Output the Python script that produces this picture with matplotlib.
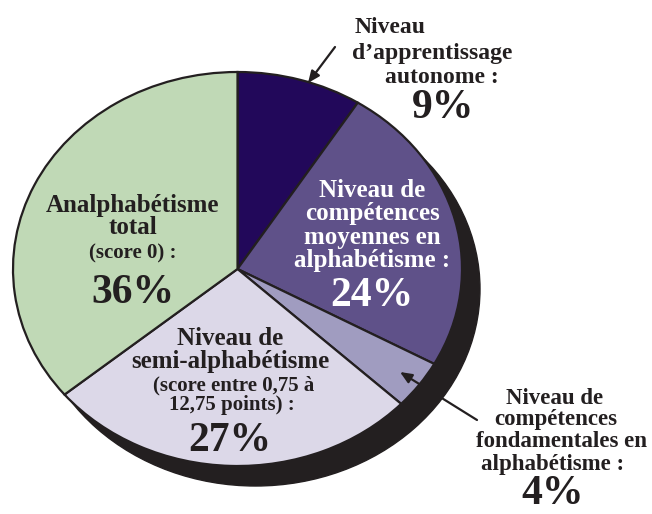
import matplotlib
matplotlib.use("Agg")
import matplotlib.pyplot as plt
from matplotlib.patches import Ellipse

# ---- data ----
categories = [
    "Niveau d'apprentissage autonome",
    "Niveau de compétences moyennes en alphabétisme",
    "Niveau de compétences fondamentales en alphabétisme",
    "Niveau de semi-alphabétisme",
    "Analphabétisme total",
]
values = [9, 24, 4, 27, 36]
colors = ["#22085a", "#5f5189", "#a09cc0", "#dcd8e8", "#c0d9b6"]
pct_labels = ["9%", "24%", "4%", "27%", "36%"]

W, H = 652, 514
fig = plt.figure(figsize=(W / 100, H / 100), dpi=100)
ax = fig.add_axes([0, 0, 1, 1])

# pie geometry (pixels) -> elliptical pie using non-equal aspect
cx, cy, rx, ry = 237.5, 269, 224.5, 197
ink = "#231f20"

# shadow
shadow = Ellipse((18 / rx, -20 / ry), 2, 2, facecolor=ink, edgecolor=ink, zorder=0)
ax.add_patch(shadow)

wedges, _ = ax.pie(values, colors=colors, startangle=90, counterclock=False,
                   radius=1, center=(0, 0),
                   wedgeprops=dict(edgecolor=ink, linewidth=1.6))
for w in wedges:
    w.set_zorder(2)
ax.set_xlim(-cx / rx, (W - cx) / rx)
ax.set_ylim(-(H - cy) / ry, cy / ry)
ax.set_aspect("auto")
ax.axis("off")

FAM = ["Liberation Serif", "DejaVu Serif"]

def P(x, y):
    return (x / W, 1 - y / H)

def txt(x, y, s, size, color=ink):
    fig.text(*P(x, y), s, ha="center", va="baseline", fontsize=size,
             family=FAM, fontweight="bold", color=color)

LBL = 18
OUT = 16.5
SM = 15
PCT = 30

# top label (9%)
txt(390, 33, "Niveau", OUT + 0.5)
txt(432, 59, "d\u2019apprentissage", OUT + 0.5)
txt(442, 83, "autonome :", OUT + 0.5)
txt(443, 118, pct_labels[0], PCT)

# 24% label (white, inside)
txt(372, 197, "Niveau de", LBL, "white")
txt(372, 220, "compétences", LBL, "white")
txt(372, 244, "moyennes en", LBL, "white")
txt(372, 267, "alphabétisme :", LBL, "white")
txt(372, 306, pct_labels[1], PCT, "white")

# 4% label (outside, bottom right)
txt(555, 404, "Niveau de", OUT)
txt(556, 425, "compétences", OUT)
txt(562, 447, "fondamentales en", OUT)
txt(553, 470, "alphabétisme :", OUT)
txt(553, 504, pct_labels[2], PCT)

# 27% label
txt(230, 345, "Niveau de", LBL)
txt(230, 368, "semi-alphabétisme", LBL)
txt(234, 390, "(score entre 0,75 à", SM)
txt(232, 410, "12,75 points) :", SM)
txt(230, 451, pct_labels[3], PCT)

# 36% label
txt(133, 212, "Analphabétisme", LBL)
txt(133, 234, "total", LBL)
txt(133, 258, "(score 0) :", SM)
txt(133, 303, pct_labels[4], PCT)

# arrows
arrow = dict(arrowstyle="-|>,head_length=0.7,head_width=0.3", color=ink, lw=1.6,
             shrinkA=0, shrinkB=0)
ax.annotate("", xy=P(308, 83), xytext=P(335, 47), xycoords="figure fraction",
            textcoords="figure fraction", arrowprops=arrow, zorder=5)
ax.annotate("", xy=P(400, 372), xytext=P(477, 420), xycoords="figure fraction",
            textcoords="figure fraction", arrowprops=arrow, zorder=5)

fig.savefig("out.png", dpi=100, facecolor="white")
